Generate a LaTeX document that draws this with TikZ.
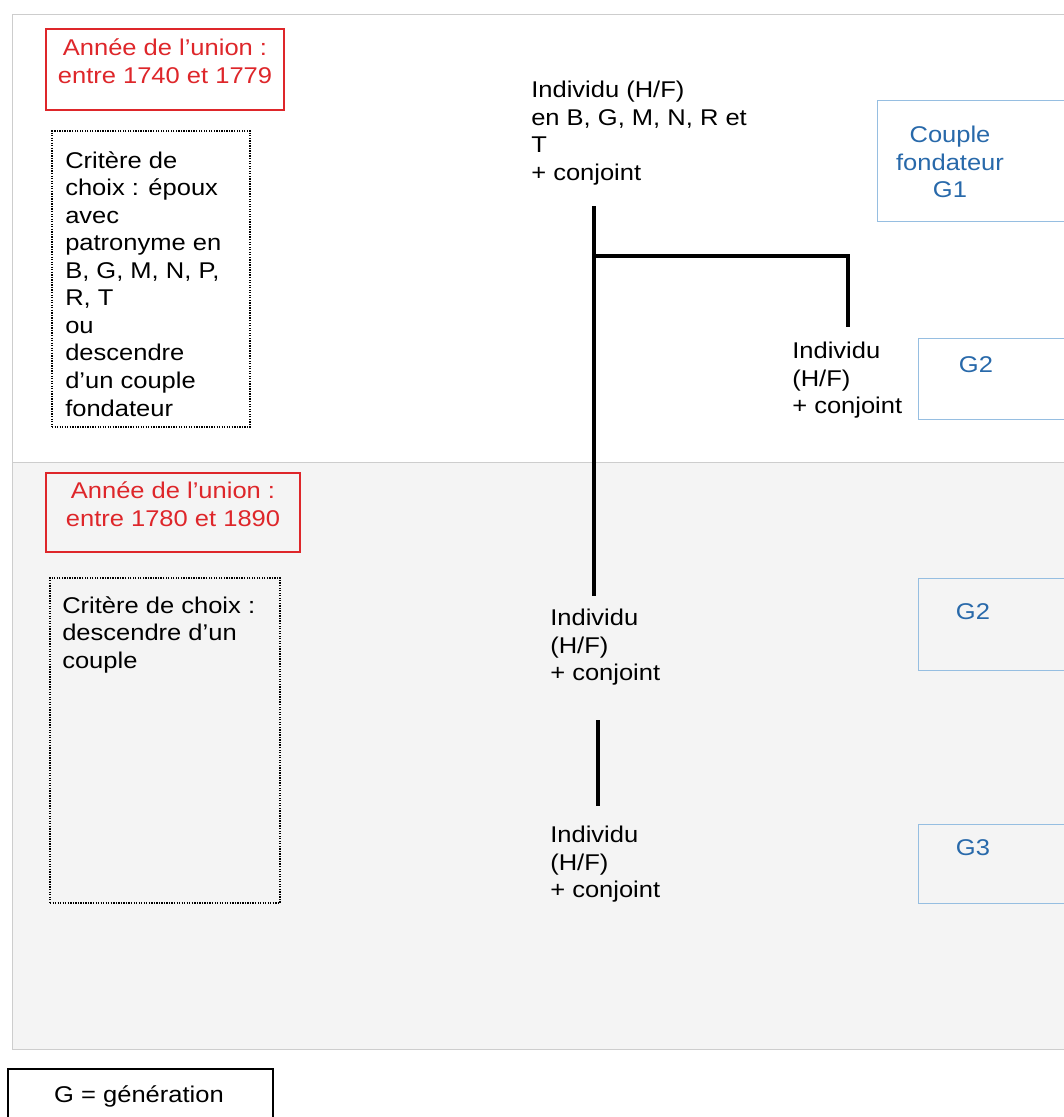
\documentclass[tikz,border=0pt]{standalone}
\usepackage{fontspec}
\setmainfont{Liberation Sans}[FakeStretch=1.12]
\usepackage{xcolor}
\usetikzlibrary{fit}

\definecolor{unionred}{RGB}{222,38,42}
\definecolor{genblue}{RGB}{40,105,170}
\definecolor{genframe}{RGB}{150,190,225}
\definecolor{panelgray}{RGB}{244,244,244}
\definecolor{panelline}{RGB}{205,205,205}

\begin{document}
\begin{tikzpicture}[x=0.025cm, y=-0.025cm,
  every node/.style={font=\fontsize{16.2}{19.6}\selectfont, inner sep=0pt},
  union/.style={draw=unionred, line width=1.4pt, text=unionred, align=center},
  critere/.style={draw=black, line width=1.4pt, dash pattern=on 0.9pt off 0.9pt},
  gen/.style={draw=genframe, line width=0.7pt},
  gentxt/.style={text=genblue, align=center},
  indiv/.style={align=left, anchor=north west},
  lien/.style={line width=3pt}]
  \useasboundingbox (0,0) rectangle (1064,1117);
  \clip (0,0) rectangle (1064,1117);
  \fill[white] (0,0) rectangle (1064,1117);

  % two periods
  \draw[panelline] (12,14) rectangle (1090,462);
  \filldraw[fill=panelgray, draw=panelline] (12,462) rectangle (1090,1049);

  % left column
  \node[union, fit={(46,29) (284,110)}] (union1) {Année de l’union :\\entre 1740 et 1779};
  \node[critere, fit={(52,131) (250,427)}] (crit1) {};
  \node[indiv] (crit1txt) at (65,151) {Critère de\\choix : époux\\avec\\patronyme en\\B, G, M, N, P,\\R, T\\ou\\descendre\\d’un couple\\fondateur};

  \node[union, fit={(46,473) (300,552)}] (union2) {Année de l’union :\\entre 1780 et 1890};
  \node[critere, fit={(50,578) (280,903)}] (crit2) {};
  \node[indiv] (crit2txt) at (62,596) {Critère de choix :\\descendre d’un\\couple};

  % individuals
  \node[indiv] (ind1) at (531,81) {Individu (H/F)\\en B, G, M, N, R et\\T\\+ conjoint};
  \node[indiv] (ind2) at (792,342) {Individu\\(H/F)\\+ conjoint};
  \node[indiv] (ind3) at (550,609) {Individu\\(H/F)\\+ conjoint};
  \node[indiv] (ind4) at (550,826) {Individu\\(H/F)\\+ conjoint};

  \coordinate (j1) at (594,206);
  \coordinate (j2) at (594,256);
  \coordinate (j3) at (848,256);
  \coordinate (j4) at (848,327);
  \coordinate (j5) at (594,596);
  \coordinate (k1) at (598,720);
  \coordinate (k2) at (598,806);
  \draw[lien] (j1) -- (j5);
  \draw[lien] (j2) -- (j3) -- (j4);
  \draw[lien] (k1) -- (k2);

  % generations
  \node[gen, fit={(877,100) (1090,221)}] (g1) {};
  \node[gentxt, anchor=north] (g1txt) at (950,126) {Couple\\fondateur\\G1};
  \node[gen, fit={(918,338) (1090,419)}] (g2a) {};
  \node[gentxt, anchor=base] (g2atxt) at (976,372) {G2};
  \node[gen, fit={(918,578) (1090,670)}] (g2b) {};
  \node[gentxt, anchor=base] (g2btxt) at (973,619) {G2};
  \node[gen, fit={(918,824) (1090,903)}] (g3) {};
  \node[gentxt, anchor=base] (g3txt) at (973,855) {G3};

  % legend
  \node[draw, line width=1.5pt, fit={(8,1069) (273,1140)}] (legende) {};
  \node[anchor=base] (legtxt) at (139,1102) {G = génération};
\end{tikzpicture}
\end{document}
